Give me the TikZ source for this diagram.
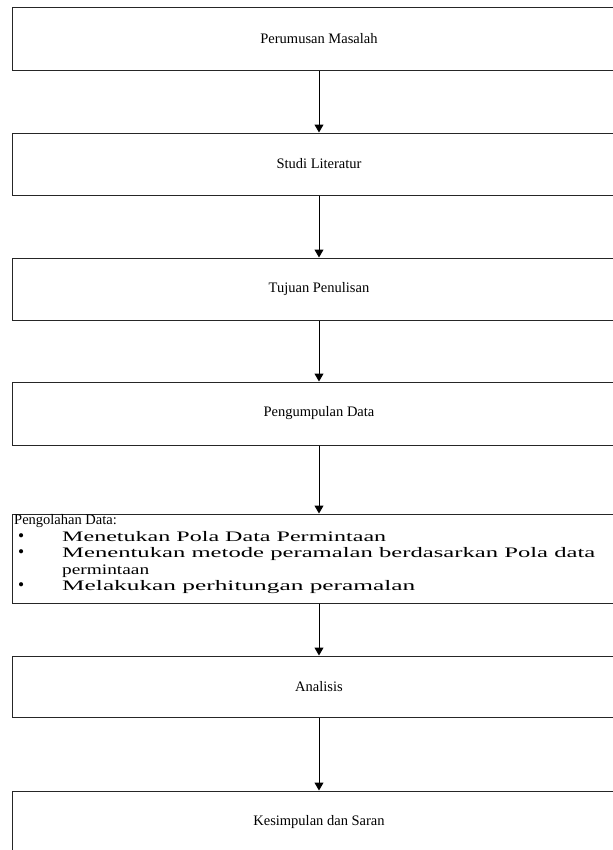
\documentclass[tikz,border=0pt]{standalone}
\usepackage{fontspec}
\usepackage{graphicx}
\setmainfont{Liberation Serif}
\usetikzlibrary{arrows.meta}
\newcommand{\blt}{\makebox[48bp][l]{\hspace{4bp}\scalebox{1.2}{\textbullet}}}
\newcommand{\wide}[2]{\resizebox{#1}{\height}{#2}}
\tikzset{
  flowbox/.style={draw=black!85, line width=1bp, rectangle, minimum width=612bp, inner sep=0pt, font=\fontsize{14.5bp}{16.5bp}\selectfont},
  flowarrow/.style={draw=black, line width=1bp, -{Triangle[width=9bp,length=8bp]}},
  bodytext/.style={anchor=north west, inner sep=0pt, align=left, font=\fontsize{14.5bp}{16.5bp}\selectfont}
}
\begin{document}
\begin{tikzpicture}[x=1bp,y=-1bp]
\useasboundingbox (0,0) rectangle (613,850);
\clip (0,0) rectangle (613,850);
\fill[white] (0,0) rectangle (613,850);
\node[flowbox, minimum height=62bp] (b1) at (319,39) {Perumusan Masalah};
\node[flowbox, minimum height=62bp] (b2) at (319,164) {Studi Literatur};
\node[flowbox, minimum height=62bp] (b3) at (319,289) {Tujuan Penulisan};
\node[flowbox, minimum height=63bp] (b4) at (319,413.5) {Pengumpulan Data};
\node[flowbox, minimum height=89bp] (b5) at (319,558.5) {};
\node[bodytext] (t5) at ([xshift=1.5bp,yshift=-1bp]b5.north west) {%
Pengolahan Data:\\
\blt\wide{324bp}{Menetukan Pola Data Permintaan}\\
\blt\wide{533bp}{Menentukan metode peramalan berdasarkan Pola data}\\
\makebox[48bp][l]{}\wide{87bp}{permintaan}\\
\blt\wide{353bp}{Melakukan perhitungan peramalan}};
\node[flowbox, minimum height=61bp] (b6) at (319,686.5) {Analisis};
\node[flowbox, minimum height=62bp] (b7) at (319,822) {Kesimpulan dan Saran};
\draw[flowarrow] (b1.south) -- (b2.north);
\draw[flowarrow] (b2.south) -- (b3.north);
\draw[flowarrow] (b3.south) -- (b4.north);
\draw[flowarrow] (b4.south) -- (b5.north);
\draw[flowarrow] (b5.south) -- (b6.north);
\draw[flowarrow] (b6.south) -- (b7.north);
\end{tikzpicture}
\end{document}
